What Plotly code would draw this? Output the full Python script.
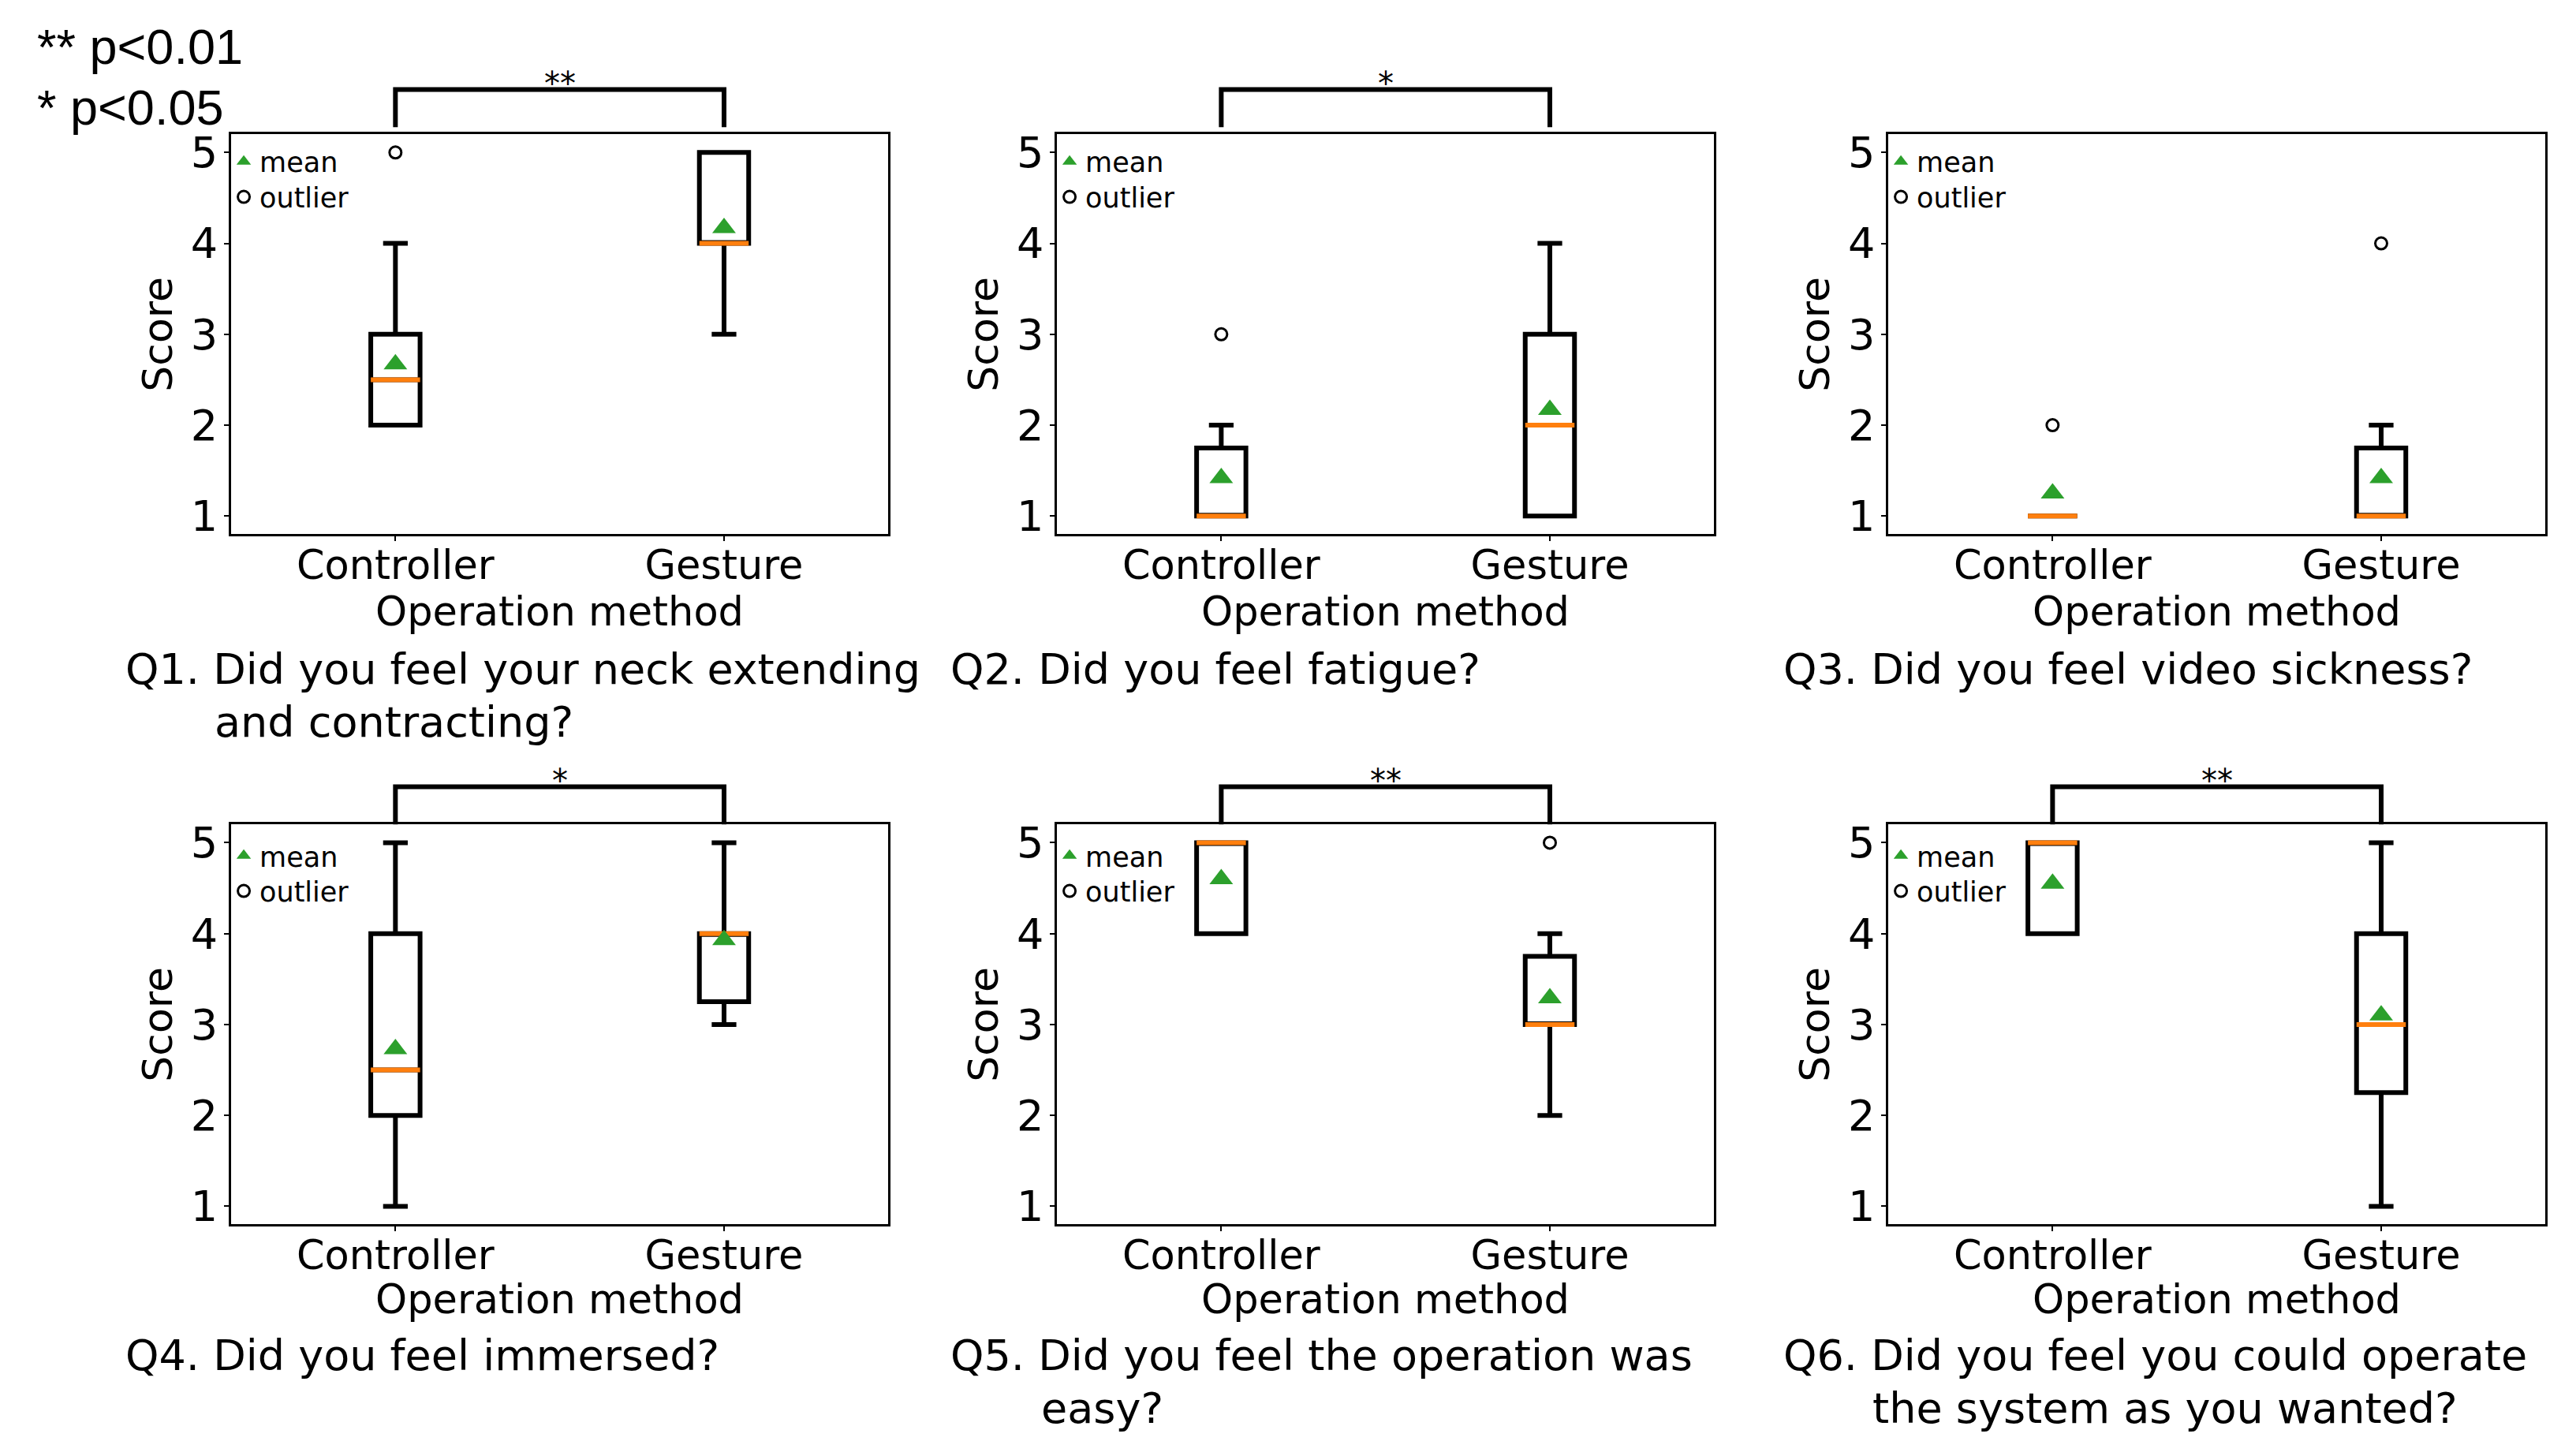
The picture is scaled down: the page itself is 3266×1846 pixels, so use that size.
import plotly.graph_objects as go

# ---------------- data ----------------
categories = ["Controller", "Gesture"]
positions = [1, 2]
y_ticks = [1, 2, 3, 4, 5]

titles_line1 = [
    "Q1. Did you feel your neck extending",
    "Q2. Did you feel fatigue?",
    "Q3. Did you feel video sickness?",
    "Q4. Did you feel immersed?",
    "Q5. Did you feel the operation was",
    "Q6. Did you feel you could operate",
]
titles_line2 = ["and contracting?", "", "", "", "easy?", "the system as you wanted?"]
x_title = "Operation method"
y_title = "Score"

# per panel: [Controller, Gesture]
whisker_low = [[2, 3], [1, 1], [1, 1], [1, 3], [4, 2], [4, 1]]
quart1 = [[2, 4], [1, 1], [1, 1], [2, 3.25], [4, 3], [4, 2.25]]
medians = [[2.5, 4], [1, 2], [1, 1], [2.5, 4], [5, 3], [5, 3]]
quart3 = [[3, 5], [1.75, 3], [1, 1.75], [4, 4], [5, 3.75], [5, 4]]
whisker_high = [[4, 5], [2, 4], [1, 2], [5, 5], [5, 4], [5, 5]]
means = [[2.67, 4.17], [1.42, 2.17], [1.25, 1.42], [2.73, 3.93], [4.6, 3.29], [4.55, 3.1]]
outliers = [[[5], []], [[3], []], [[2], [4]], [[], []], [[], [5]], [[], []]]
significance = ["**", "*", "", "*", "**", "**"]

# ---------------- style / layout ----------------
FIG_W, FIG_H = 3266, 1846


def fx(t):  # calibration of horizontal placement (px)
    return (t + 1.7) / 1.0057


def fy(t):  # calibration of vertical placement (px from top)
    return (t - 21.6) / 0.989 + max(0.0, 13 - 0.0075 * t)


def px(t):
    return fx(t) / FIG_W


def py(t):
    return 1 - fy(t) / FIG_H


col_px = [(293, 1131), (1346, 2184), (2406, 3244)]
row_px = [(172, 682), (1052, 1562)]
bracket_top_px = [115, 1004]
bracket_leg_px = [163, 1052]
legend_mean_px = [207, 1092]
legend_out_px = [252, 1137]
BOX_W = 0.15
FONT = "DejaVu Sans"
ORANGE = "#ff7f0e"
GREEN = "#2ca02c"

fig = go.Figure()
layout = dict(
    width=FIG_W, height=FIG_H,
    margin=dict(l=0, r=0, t=0, b=0),
    paper_bgcolor="white", plot_bgcolor="white",
    boxmode="overlay",
    font=dict(family=FONT, size=51, color="black"),
    shapes=[], annotations=[],
)


def legend_name(k):
    return "legend" if k == 1 else f"legend{k}"


for i in range(6):
    r, c = divmod(i, 3)
    n = i + 1
    xs = "" if n == 1 else str(n)
    xa, ya = "x" + xs, "y" + xs
    lg_mean = legend_name(2 * i + 1)
    lg_out = legend_name(2 * i + 2)
    x0, x1 = col_px[c]
    y0, y1 = row_px[r]
    dom_x = [px(x0), px(x1)]
    dom_y = [py(y1), py(y0)]

    layout["xaxis" + xs] = dict(
        domain=dom_x, anchor=ya, range=[0.5, 2.5],
        tickmode="array", tickvals=positions, ticktext=categories,
        ticks="outside", ticklen=6, tickwidth=2, tickcolor="black",
        ticklabelstandoff=-14,
        showline=True, mirror=True, linecolor="black", linewidth=3,
        showgrid=False, zeroline=False,
        tickfont=dict(size=51),
    )
    layout["yaxis" + xs] = dict(
        domain=dom_y, anchor=xa, range=[0.8, 5.2],
        tickmode="array", tickvals=y_ticks,
        ticks="outside", ticklen=6, tickwidth=2, tickcolor="black",
        ticklabelstandoff=-3,
        showline=True, mirror=True, linecolor="black", linewidth=3,
        showgrid=False, zeroline=False,
        tickfont=dict(size=54),
        title=dict(text=y_title, font=dict(size=52), standoff=7),
    )
    for lg, yc in [(lg_mean, legend_mean_px[r]), (lg_out, legend_out_px[r])]:
        layout[lg] = dict(
            x=px(x0 - 4), y=py(yc), xanchor="left", yanchor="middle",
            bgcolor="rgba(0,0,0,0)", borderwidth=0, font=dict(size=35),
            itemwidth=30, tracegroupgap=0, itemclick=False,
        )

    # boxes
    fig.add_trace(go.Box(
        x=positions, q1=quart1[i], median=medians[i], q3=quart3[i],
        lowerfence=whisker_low[i], upperfence=whisker_high[i],
        width=BOX_W, whiskerwidth=0.5, boxpoints=False,
        line=dict(color="black", width=6), fillcolor="rgba(0,0,0,0)",
        showlegend=False, xaxis=xa, yaxis=ya, hoverinfo="skip",
    ))
    # orange median lines
    mx, my = [], []
    for p, m in zip(positions, medians[i]):
        mx += [p - BOX_W / 2, p + BOX_W / 2, None]
        my += [m, m, None]
    fig.add_trace(go.Scatter(
        x=mx, y=my, mode="lines", line=dict(color=ORANGE, width=6),
        showlegend=False, xaxis=xa, yaxis=ya, hoverinfo="skip",
    ))
    # means
    fig.add_trace(go.Scatter(
        x=positions, y=means[i], mode="markers", name="mean",
        marker=dict(symbol="triangle-up", size=26, color=GREEN),
        legend=lg_mean, xaxis=xa, yaxis=ya,
    ))
    # outliers
    ox, oy = [], []
    for p, vals in zip(positions, outliers[i]):
        for v in vals:
            ox.append(p)
            oy.append(v)
    if not ox:
        ox, oy = [None], [None]  # keep the legend entry
    fig.add_trace(go.Scatter(
        x=ox, y=oy, mode="markers", name="outlier",
        marker=dict(symbol="circle-open", size=15, color="black", line=dict(width=3)),
        legend=lg_out, xaxis=xa, yaxis=ya,
    ))

    # x-axis title
    layout["annotations"].append(dict(
        text=x_title, xref="paper", yref="paper",
        x=(dom_x[0] + dom_x[1]) / 2, y=py([781, 1658][r]),
        xanchor="center", yanchor="middle", showarrow=False,
        font=dict(size=51),
    ))

    # significance bracket
    if significance[i]:
        top = py(bracket_top_px[r])
        leg = py(bracket_leg_px[r])
        pa, pb = positions
        layout["shapes"].append(dict(
            type="path", xref=xa, yref="paper",
            path=f"M {pa},{leg} L {pa},{top} L {pb},{top} L {pb},{leg}",
            line=dict(color="black", width=6),
        ))
        layout["annotations"].append(dict(
            text=significance[i], xref=xa, yref="paper",
            x=(pa + pb) / 2, y=top, xanchor="center", yanchor="bottom",
            yshift=-17, showarrow=False, font=dict(size=40),
        ))

    # question titles
    tx = [157, 1203, 2259][c]
    tx2 = [270, 1318, 2372][c]
    layout["annotations"].append(dict(
        text=titles_line1[i], xref="paper", yref="paper",
        x=tx / FIG_W, y=py([854, 1729][r]), xanchor="left", yanchor="middle",
        showarrow=False, font=dict(size=54),
    ))
    if titles_line2[i]:
        layout["annotations"].append(dict(
            text=titles_line2[i], xref="paper", yref="paper",
            x=tx2 / FIG_W, y=py([921, 1796][r]), xanchor="left", yanchor="middle",
            showarrow=False, font=dict(size=54),
        ))

# p-value key
for txt, yc in [("** p<0.01", 60), ("* p<0.05", 138)]:
    layout["annotations"].append(dict(
        text=txt, xref="paper", yref="paper", x=45 / FIG_W, y=py(yc),
        xanchor="left", yanchor="middle", showarrow=False,
        font=dict(family="Liberation Sans", size=63),
    ))

fig.update_layout(**layout)
fig.write_html("out.html", config={"displayModeBar": False},
               post_script="document.body.style.margin='0';")
